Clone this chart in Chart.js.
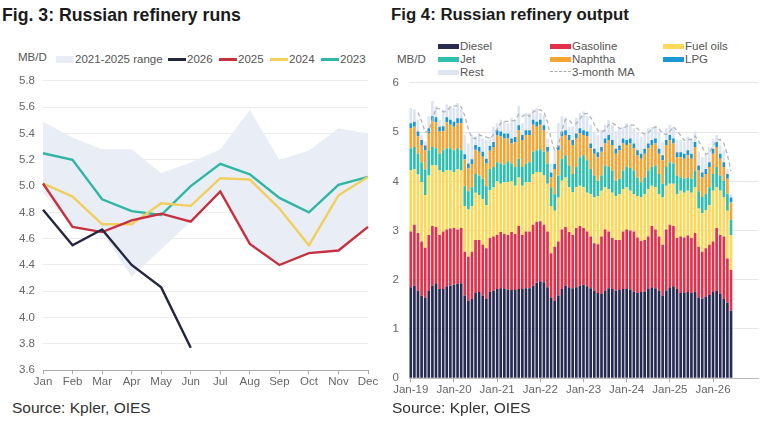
<!DOCTYPE html>
<html>
<head>
<meta charset="utf-8">
<script src="https://cdn.jsdelivr.net/npm/chart.js@4.4.1/dist/chart.umd.min.js"></script>
<style>
  body { margin:0; width:765px; height:422px; background:#fff; position:relative; overflow:hidden;
         font-family:"Liberation Sans", Arial, sans-serif; }
  .title { position:absolute; top:5px; font-weight:bold; color:#1b1b1b; }
  .source { position:absolute; top:399px; font-size:15.5px; color:#333; }
  .unit { position:absolute; font-size:11.5px; color:#555; }
  .leg { position:absolute; font-size:11.5px; color:#555; white-space:nowrap; line-height:14px; }
  .sw { position:absolute; }
  .box { position:absolute; }
</style>
</head>
<body>
<div class="title" style="left:2px; font-size:17.7px">Fig. 3: Russian refinery runs</div>
<div class="title" style="left:391px; font-size:16.8px">Fig 4: Russian refinery output</div>
<div class="unit" style="left:18px; top:51px">MB/D</div>
<div class="unit" style="left:397px; top:53px">MB/D</div>
<div id="legLeft"></div>
<div id="legRight"></div>
<div class="box" style="left:0; top:66px; width:380px; height:328px"><canvas id="runs"></canvas></div>
<div class="box" style="left:385px; top:66px; width:380px; height:334px"><canvas id="output"></canvas></div>
<div class="source" style="left:12px">Source: Kpler, OIES</div>
<div class="source" style="left:392px">Source: Kpler, OIES</div>

<script>
// ---- Fig 3 data: monthly runs, MB/D ----
const runMonths = ['Jan','Feb','Mar','Apr','May','Jun','Jul','Aug','Sep','Oct','Nov','Dec'];
const rangeLow  = [4.95, 4.69, 4.65, 4.31, 4.52, 4.73, 4.96, 4.56, 4.40, 4.49, 4.51, 4.69];
const rangeHigh = [5.49, 5.37, 5.28, 5.28, 5.10, 5.18, 5.28, 5.58, 5.20, 5.27, 5.44, 5.40];
const runs2026 = [4.82, 4.55, 4.67, 4.40, 4.23, 3.77, null, null, null, null, null, null];
const runs2025 = [5.02, 4.69, 4.65, 4.74, 4.79, 4.73, 4.96, 4.56, 4.40, 4.49, 4.51, 4.69];
const runs2024 = [5.02, 4.92, 4.71, 4.71, 4.87, 4.85, 5.06, 5.05, 4.83, 4.55, 4.93, 5.07];
const runs2023 = [5.25, 5.20, 4.90, 4.81, 4.78, 5.00, 5.17, 5.09, 4.91, 4.80, 5.01, 5.07];

// ---- Fig 4 data: monthly output by product, Jan-19 .. Jun-26, MB/D ----
const monthNames = ['Jan','Feb','Mar','Apr','May','Jun','Jul','Aug','Sep','Oct','Nov','Dec'];
const axisYears = ['19','20','21','22','23','24','25','26','27'];
const diesel = [1.85,1.88,1.78,1.68,1.64,1.78,1.88,1.93,1.81,1.81,1.87,1.88,1.90,1.92,1.93,1.68,1.57,1.62,1.73,1.75,1.68,1.61,
  1.75,1.78,1.81,1.83,1.81,1.80,1.79,1.79,1.81,1.81,1.83,1.83,1.88,1.94,1.97,1.95,1.85,1.64,1.57,1.68,1.81,1.88,1.85,1.83,
  1.85,1.88,1.90,1.87,1.83,1.78,1.73,1.71,1.78,1.83,1.81,1.78,1.79,1.81,1.81,1.80,1.76,1.73,1.75,1.76,1.81,1.85,1.83,
  1.78,1.68,1.78,1.85,1.87,1.81,1.73,1.73,1.75,1.73,1.76,1.64,1.62,1.66,1.69,1.75,1.78,1.71,1.61,1.54,1.37];
const gasoline = [1.13,1.24,1.17,1.10,1.01,1.13,1.21,1.14,1.10,1.17,1.15,1.16,1.15,1.10,1.12,0.89,0.90,0.95,1.08,1.06,1.03,1.03,
  1.10,1.10,1.10,1.14,1.12,1.11,1.18,1.14,1.28,1.10,1.15,1.15,1.24,1.24,1.22,1.17,1.13,0.90,1.10,1.10,1.21,1.19,1.12,1.08,
  1.20,1.21,1.15,1.11,1.05,0.96,0.99,1.17,1.24,1.15,1.04,1.03,1.02,1.17,1.21,1.20,1.22,1.13,1.04,1.05,1.07,1.24,1.19,
  1.10,1.03,1.24,1.27,1.22,1.04,1.15,1.13,1.15,1.12,1.19,1.03,0.95,0.98,1.02,1.03,1.27,1.20,1.27,0.89,0.83];
const fuelOils = [1.24,1.13,1.19,1.20,1.07,1.21,1.23,1.25,1.31,1.21,1.21,1.18,1.14,1.23,1.17,0.93,0.96,0.93,0.96,0.91,0.93,0.88,
  0.97,1.00,1.09,0.98,1.05,1.07,1.03,0.98,0.99,1.00,1.00,1.00,1.03,1.01,1.00,1.00,0.97,0.96,0.73,0.89,0.99,1.01,0.91,0.87,
  0.83,0.82,0.83,0.79,0.86,0.93,0.98,0.93,0.86,0.86,0.92,0.89,0.93,0.86,0.86,0.81,0.76,0.84,0.88,0.93,0.96,0.82,0.86,
  0.86,0.96,0.89,0.83,0.86,0.89,0.93,0.91,0.91,0.92,0.93,0.78,0.78,0.78,0.81,1.03,0.83,0.90,0.79,0.97,0.71];
const jet = [0.45,0.45,0.42,0.41,0.52,0.51,0.38,0.35,0.34,0.44,0.44,0.45,0.44,0.42,0.41,0.40,0.37,0.38,0.38,0.40,0.41,0.38,
  0.43,0.41,0.39,0.41,0.36,0.43,0.36,0.38,0.38,0.38,0.38,0.41,0.45,0.44,0.46,0.48,0.41,0.38,0.34,0.45,0.45,0.45,0.44,0.37,
  0.41,0.58,0.65,0.66,0.51,0.45,0.31,0.31,0.44,0.45,0.45,0.31,0.31,0.38,0.42,0.46,0.48,0.38,0.31,0.34,0.38,0.38,0.44,
  0.41,0.28,0.38,0.44,0.41,0.38,0.27,0.28,0.27,0.28,0.34,0.35,0.33,0.33,0.36,0.34,0.41,0.31,0.34,0.35,0.31];
const naphtha = [0.41,0.41,0.35,0.35,0.39,0.35,0.52,0.53,0.45,0.39,0.53,0.48,0.48,0.51,0.55,0.55,0.46,0.47,0.49,0.48,0.45,0.46,
  0.37,0.41,0.55,0.55,0.53,0.46,0.41,0.51,0.58,0.55,0.58,0.55,0.55,0.48,0.50,0.44,0.24,0.20,0.51,0.51,0.45,0.41,0.52,0.59,
  0.58,0.49,0.41,0.48,0.42,0.44,0.48,0.48,0.45,0.55,0.52,0.55,0.58,0.55,0.44,0.50,0.45,0.45,0.48,0.48,0.45,0.45,0.45,
  0.41,0.48,0.45,0.45,0.41,0.37,0.41,0.41,0.45,0.41,0.48,0.42,0.40,0.40,0.41,0.41,0.41,0.34,0.28,0.30,0.35];
const lpg = [0.10,0.10,0.10,0.10,0.10,0.10,0.10,0.10,0.10,0.10,0.10,0.10,0.10,0.10,0.10,0.10,0.10,0.10,0.10,0.10,0.10,0.10,
  0.10,0.10,0.10,0.10,0.10,0.10,0.10,0.10,0.10,0.10,0.10,0.10,0.10,0.10,0.10,0.10,0.10,0.10,0.10,0.10,0.10,0.10,0.10,0.10,
  0.10,0.10,0.10,0.10,0.10,0.10,0.10,0.10,0.10,0.10,0.10,0.10,0.10,0.10,0.10,0.10,0.10,0.10,0.10,0.10,0.10,0.10,0.10,
  0.10,0.10,0.10,0.10,0.10,0.10,0.10,0.10,0.10,0.10,0.10,0.10,0.10,0.10,0.10,0.10,0.10,0.10,0.10,0.10,0.10];
const rest = [0.31,0.25,0.24,0.10,0.08,0.24,0.31,0.23,0.14,0.34,0.26,0.28,0.28,0.31,0.18,0.39,0.41,0.49,0.17,0.28,0.27,0.38,
  0.18,0.31,0.14,0.24,0.25,0.21,0.42,0.35,0.39,0.24,0.35,0.35,0.21,0.28,0.14,0.21,0.17,0.18,0.28,0.45,0.31,0.25,0.17,0.28,
  0.32,0.31,0.38,0.31,0.38,0.35,0.35,0.34,0.28,0.31,0.31,0.35,0.35,0.24,0.34,0.28,0.31,0.35,0.35,0.32,0.31,0.27,0.26,
  0.32,0.27,0.24,0.21,0.24,0.25,0.25,0.24,0.28,0.28,0.21,0.28,0.31,0.31,0.31,0.21,0.14,0.18,0.24,0.10,0.07];
const movingAvg = [null,null,5.40,5.22,5.00,5.02,5.25,5.49,5.47,5.41,5.42,5.52,5.53,5.54,5.51,5.33,5.06,4.88,4.87,4.94,4.92,4.90,
  4.87,4.95,5.06,5.18,5.22,5.22,5.23,5.24,5.36,5.32,5.37,5.32,5.41,5.45,5.45,5.41,5.20,4.86,4.62,4.72,5.04,5.26,5.24,5.17,
  5.17,5.27,5.37,5.38,5.30,5.16,5.03,5.00,5.04,5.15,5.18,5.14,5.08,5.07,5.12,5.15,5.14,5.07,4.99,4.96,4.99,5.06,5.11,
  5.07,4.97,4.95,5.01,5.11,5.03,4.93,4.83,4.85,4.85,4.92,4.82,4.70,4.55,4.58,4.71,4.84,4.85,4.77,4.54,4.21];

// month labels for the output axis (axis runs a little past the last bar)
const outputMonths = [];
axisYears.forEach(function (yy) {
    monthNames.forEach(function (m) {
        if (outputMonths.length < 97) outputMonths.push(m + '-' + yy);
    });
});
const lastBar = diesel.length;

const FONT = '"Liberation Sans", Arial, sans-serif';
Chart.defaults.font.family = FONT;
Chart.defaults.color = '#666';

// ---- HTML legends ----
function addLegend(holder, items) {
    const el = document.getElementById(holder);
    items.forEach(function (it) {
        const sw = document.createElement('div');
        sw.className = 'sw';
        sw.style.left = it.x + 'px';
        sw.style.top = (it.y - it.h / 2) + 'px';
        sw.style.width = it.w + 'px';
        sw.style.height = it.h + 'px';
        if (it.dash) {
            sw.style.borderTop = '1.5px dashed ' + it.color;
            sw.style.height = '0';
        } else {
            sw.style.background = it.color;
        }
        el.appendChild(sw);
        const tx = document.createElement('div');
        tx.className = 'leg';
        tx.style.left = (it.x + it.w + 1) + 'px';
        tx.style.top = (it.y - 7) + 'px';
        tx.textContent = it.label;
        el.appendChild(tx);
    });
}

addLegend('legLeft', [
    { label: '2021-2025 range', color: '#e9eef6', x: 56, y: 59, w: 18, h: 7 },
    { label: '2026', color: '#23283f', x: 168, y: 59, w: 18, h: 3 },
    { label: '2025', color: '#c9303f', x: 219, y: 59, w: 18, h: 3 },
    { label: '2024', color: '#f1cf5e', x: 270, y: 59, w: 18, h: 3 },
    { label: '2023', color: '#2fb6a4', x: 321, y: 59, w: 18, h: 3 }
]);

addLegend('legRight', [
    { label: 'Diesel', color: '#262b52', x: 438, y: 46, w: 21, h: 5 },
    { label: 'Gasoline', color: '#e2304a', x: 550, y: 46, w: 21, h: 5 },
    { label: 'Fuel oils', color: '#fbd858', x: 663, y: 46, w: 21, h: 5 },
    { label: 'Jet', color: '#2ebfae', x: 438, y: 59, w: 21, h: 5 },
    { label: 'Naphtha', color: '#f5a533', x: 550, y: 59, w: 21, h: 5 },
    { label: 'LPG', color: '#1a98d5', x: 663, y: 59, w: 21, h: 5 },
    { label: 'Rest', color: '#dce5f1', x: 438, y: 72, w: 21, h: 5 },
    { label: '3-month MA', color: '#aaa', x: 550, y: 72, w: 21, h: 2, dash: true }
]);

// ---- Fig 3: refinery runs ----
function lineSet(label, data, color) {
    return { label: label, data: data, borderColor: color, backgroundColor: color,
             borderWidth: 2.4, pointRadius: 0, tension: 0, fill: false, spanGaps: false };
}

new Chart(document.getElementById('runs'), {
    type: 'line',
    data: {
        labels: runMonths,
        datasets: [
            lineSet('2026', runs2026, '#23283f'),
            lineSet('2025', runs2025, '#c9303f'),
            lineSet('2024', runs2024, '#f1cf5e'),
            lineSet('2023', runs2023, '#2fb6a4'),
            { label: 'low', data: rangeLow, borderWidth: 0, pointRadius: 0, fill: false, borderColor: 'rgba(0,0,0,0)' },
            { label: '2021-2025 range', data: rangeHigh, borderWidth: 0, pointRadius: 0,
              borderColor: 'rgba(0,0,0,0)', backgroundColor: '#e9eef6', fill: '-1' }
        ]
    },
    options: {
        responsive: true,
        maintainAspectRatio: false,
        animation: false,
        layout: { padding: { top: 6, right: 12, bottom: 4, left: 0 } },
        plugins: { legend: { display: false }, tooltip: { enabled: false } },
        scales: {
            x: {
                grid: { drawOnChartArea: false, drawTicks: true, tickLength: 4, color: '#aaa' },
                border: { color: '#aaa' },
                ticks: { font: { size: 11.5 }, color: '#666', padding: 1, maxRotation: 0, autoSkip: false }
            },
            y: {
                min: 3.6, max: 5.8,
                afterFit: function (s) { s.width = 43; },
                grid: { color: '#ececec', drawTicks: false },
                border: { display: false },
                ticks: { stepSize: 0.2, font: { size: 11.5 }, color: '#666', padding: 8,
                         callback: function (v) { return v.toFixed(1); } }
            }
        }
    }
});

// ---- Fig 4: refinery output ----
function barSet(label, data, color) {
    return { type: 'bar', label: label, data: data, backgroundColor: color, stack: 'out', order: 1,
             barPercentage: 1, categoryPercentage: 0.74 };
}

function isJanTick(idx) {
    return idx < lastBar && outputMonths[idx].indexOf('Jan') === 0;
}

new Chart(document.getElementById('output'), {
    type: 'bar',
    data: {
        labels: outputMonths,
        datasets: [
            barSet('Diesel', diesel, '#262b52'),
            barSet('Gasoline', gasoline, '#e2304a'),
            barSet('Fuel oils', fuelOils, '#fbd858'),
            barSet('Jet', jet, '#2ebfae'),
            barSet('Naphtha', naphtha, '#f5a533'),
            barSet('LPG', lpg, '#1a98d5'),
            barSet('Rest', rest, '#dce5f1'),
            { type: 'line', label: '3-month MA', data: movingAvg, stack: 'ma', order: 0,
              borderColor: '#b4b4b4', borderWidth: 1.3, borderDash: [4, 3], pointRadius: 0, tension: 0, fill: false }
        ]
    },
    options: {
        responsive: true,
        maintainAspectRatio: false,
        animation: false,
        layout: { padding: { top: 8, right: 7, bottom: 2, left: 0 } },
        plugins: { legend: { display: false }, tooltip: { enabled: false } },
        scales: {
            x: {
                stacked: true,
                grid: { drawOnChartArea: false, drawTicks: true, tickLength: 4, offset: false,
                        color: function (ctx) { return isJanTick(ctx.index) ? '#aaa' : 'rgba(0,0,0,0)'; } },
                border: { color: '#bbb' },
                ticks: { font: { size: 11.5 }, color: '#666', padding: 1, maxRotation: 0, autoSkip: false,
                         callback: function (v, idx) { return isJanTick(idx) ? outputMonths[idx] : ''; } }
            },
            y: {
                stacked: true,
                min: 0, max: 6,
                afterFit: function (s) { s.width = 24; },
                grid: { color: '#e6e6e6', drawTicks: false },
                border: { display: false },
                ticks: { stepSize: 1, font: { size: 11.5 }, color: '#666', padding: 10 }
            }
        }
    }
});
</script>
</body>
</html>
